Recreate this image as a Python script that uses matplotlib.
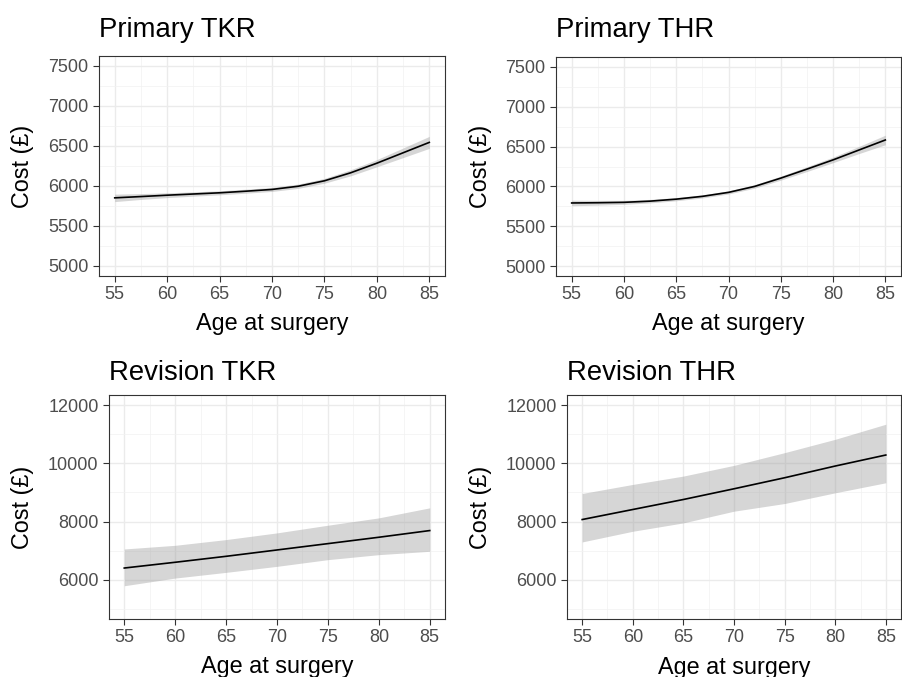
import numpy as np
import matplotlib
import matplotlib.pyplot as plt
from matplotlib.ticker import MultipleLocator
from matplotlib.transforms import blended_transform_factory

matplotlib.rc('font', family=['Liberation Sans', 'DejaVu Sans'])

# Primary TKR
age_p = [55, 57.5, 60, 62.5, 65, 67.5, 70, 72.5, 75, 77.5, 80, 82.5, 85]
tkr_p = [5852, 5868, 5885, 5900, 5915, 5935, 5957, 5997, 6065, 6165, 6285, 6415, 6545]
tkr_p_lo = [5805, 5832, 5855, 5873, 5890, 5910, 5932, 5970, 6035, 6127, 6240, 6355, 6470]
tkr_p_hi = [5898, 5905, 5915, 5927, 5940, 5960, 5982, 6024, 6095, 6203, 6330, 6475, 6620]

# Primary THR
thr_p = [5792, 5795, 5800, 5815, 5840, 5875, 5925, 6000, 6104, 6217, 6333, 6458, 6583]
thr_p_lo = [5757, 5765, 5775, 5793, 5820, 5855, 5905, 5978, 6079, 6187, 6298, 6413, 6523]
thr_p_hi = [5827, 5825, 5825, 5837, 5860, 5895, 5945, 6022, 6129, 6247, 6368, 6503, 6643]

# Revision TKR / THR
age_r = [55, 60, 65, 70, 75, 80, 85]
tkr_r = [6402, 6600, 6805, 7023, 7241, 7460, 7690]
tkr_r_lo = [5793, 6057, 6253, 6460, 6690, 6862, 6977]
tkr_r_hi = [7057, 7183, 7380, 7610, 7874, 8126, 8471]
thr_r = [8069, 8414, 8758, 9126, 9505, 9908, 10287]
thr_r_lo = [7299, 7666, 7954, 8356, 8620, 8988, 9333]
thr_r_hi = [8965, 9276, 9563, 9931, 10368, 10827, 11345]

panels = [
    ("Primary TKR", age_p, tkr_p, tkr_p_lo, tkr_p_hi, 'primary'),
    ("Primary THR", age_p, thr_p, thr_p_lo, thr_p_hi, 'primary'),
    ("Revision TKR", age_r, tkr_r, tkr_r_lo, tkr_r_hi, 'revision'),
    ("Revision THR", age_r, thr_r, thr_r_lo, thr_r_hi, 'revision'),
]

# pixel layout: axes box (left, right, top, bottom), title baseline,
# xlabel cap top, ylabel right edge
W, H = 902, 677
boxes = [(99, 445, 56, 276), (556, 901, 57, 276),
         (109, 445, 395, 619), (567, 901, 395, 619)]
title_y = [37, 37, 380, 380]
xlab_y = [312, 312, 655, 656]
ylab_x = [34, 492, 34, 492]

fig = plt.figure(figsize=(W/100, H/100), dpi=100)

for i, (title, x, y, lo, hi, kind) in enumerate(panels):
    l, r, t, b = boxes[i]
    ax = fig.add_axes([l/W, 1-b/H, (r-l)/W, (b-t)/H])
    ax.fill_between(x, lo, hi, color='#999999', alpha=0.4, lw=0, zorder=2)
    ax.plot(x, y, color='black', lw=1.2, zorder=3)

    ax.set_xlim(53.5, 86.5)
    if kind == 'primary':
        ax.set_ylim(4875, 7625)
        ax.set_yticks(np.arange(5000, 7501, 500))
        ax.yaxis.set_minor_locator(MultipleLocator(250))
    else:
        ax.set_ylim(4650, 12350)
        ax.set_yticks([6000, 8000, 10000, 12000])
        ax.set_yticks([5000, 7000, 9000, 11000], minor=True)
    ax.set_xticks(np.arange(55, 86, 5))
    ax.xaxis.set_minor_locator(MultipleLocator(2.5))

    ax.grid(which='major', color='#ebebeb', lw=1.0, zorder=0)
    ax.grid(which='minor', color='#f2f2f2', lw=0.5, zorder=0)
    ax.set_axisbelow(True)
    for s in ax.spines.values():
        s.set_color('#333333')
        s.set_linewidth(0.8)
    ax.tick_params(which='major', length=4.5, width=0.8, color='#333333',
                   labelsize=13, labelcolor='#4d4d4d', pad=3)
    ax.tick_params(which='minor', length=0)

    ax.set_title(title, loc='left', fontsize=19.8, pad=0, va='baseline',
                 y=(b - title_y[i]) / (b - t))
    ax.set_xlabel("Age at surgery", fontsize=16.8)
    ax.xaxis.set_label_coords(0.5, 1 - xlab_y[i]/H,
                              transform=blended_transform_factory(ax.transAxes, fig.transFigure))
    ax.set_ylabel("Cost (£)", fontsize=16.8)
    ax.yaxis.set_label_coords(ylab_x[i]/W, 0.5,
                              transform=blended_transform_factory(fig.transFigure, ax.transAxes))

fig.savefig('out.png', dpi=100)
